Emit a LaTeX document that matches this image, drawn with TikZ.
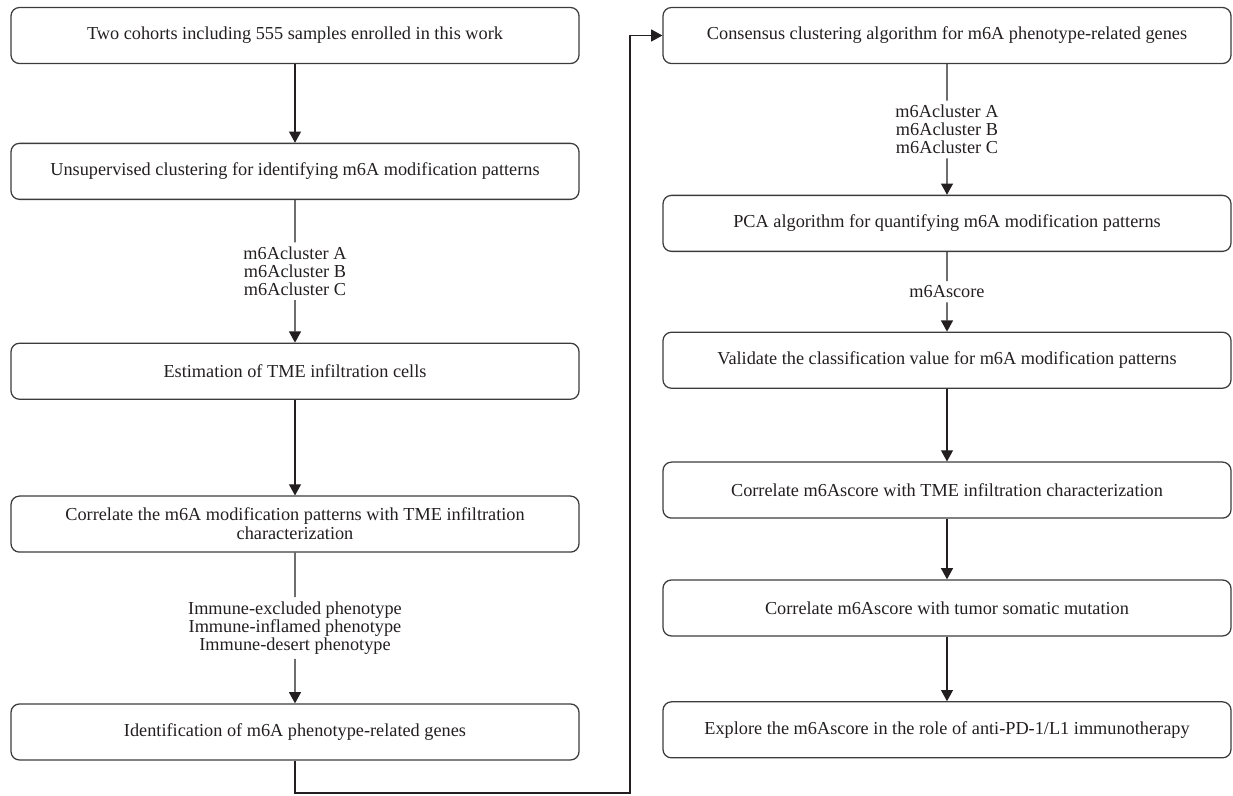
\documentclass[tikz,border=0pt]{standalone}
\usepackage{fontspec}
\setmainfont{Liberation Serif}
\usepackage{tikz}
\usetikzlibrary{arrows.meta,positioning,calc}
\usepackage{xcolor}
\definecolor{ink}{HTML}{231F20}
\definecolor{rim}{HTML}{3C3C3C}

\begin{document}
\begin{tikzpicture}[
    >={Triangle[length=0.28cm,width=0.3cm]},
    stepbox/.style={
      rectangle, rounded corners=6pt, draw=rim, line width=0.9pt,
      minimum width=14.2cm, minimum height=1.4cm, align=center,
      text=ink, font=\fontsize{13}{13.5}\selectfont, inner sep=2pt
    },
    lbl/.style={align=center, text=ink, inner sep=3pt,
      font=\fontsize{13}{12.8}\selectfont},
    link/.style={line width=0.85pt, draw=ink},
    arr/.style={link, ->}
  ]
  \useasboundingbox (0,0) rectangle (30.825,-19.875);

  % left column
  \node[stepbox] (l1) at (7.375,-0.8875)
    {Two cohorts including 555 samples enrolled in this work};
  \node[stepbox, below=1.965cm of l1] (l2)
    {Unsupervised clustering for identifying m6A modification patterns};
  \node[stepbox, below=3.565cm of l2] (l3)
    {Estimation of TME infiltration cells};
  \node[stepbox, below=2.39cm of l3] (l4)
    {Correlate the m6A modification patterns with TME infiltration\\
     characterization};
  \node[stepbox, below=3.765cm of l4] (l5)
    {Identification of m6A phenotype-related genes};

  % right column
  \node[stepbox] (r1) at (23.675,-0.8875)
    {Consensus clustering algorithm for m6A phenotype-related genes};
  \node[stepbox, below=3.265cm of r1] (r2)
    {PCA algorithm for quantifying m6A modification patterns};
  \node[stepbox, below=1.99cm of r2] (r3)
    {Validate the classification value for m6A modification patterns};
  \node[stepbox, below=1.815cm of r3] (r4)
    {Correlate m6Ascore with TME infiltration characterization};
  \node[stepbox, below=1.515cm of r4] (r5)
    {Correlate m6Ascore with tumor somatic mutation};
  \node[stepbox, below=1.615cm of r5] (r6)
    {Explore the m6Ascore in the role of anti-PD-1/L1 immunotherapy};

  \node[lbl] (lclust) at ($(l2.south)!0.5!(l3.north)$)
    {m6Acluster A\\m6Acluster B\\m6Acluster C};
  \node[lbl] (lpheno) at ($(l4.south)!0.5!(l5.north)$)
    {Immune-excluded phenotype\\Immune-inflamed phenotype\\
     Immune-desert phenotype};
  \node[lbl] (rclust) at ($(r1.south)!0.5!(r2.north)$)
    {m6Acluster A\\m6Acluster B\\m6Acluster C};
  \node[lbl] (rscore) at ($(r2.south)!0.5!(r3.north)$) {m6Ascore};

  \draw[arr] (l1) -- (l2);
  \draw[link] (l2) -- (lclust);
  \draw[arr] (lclust) -- (l3);
  \draw[arr] (l3) -- (l4);
  \draw[link] (l4) -- (lpheno);
  \draw[arr] (lpheno) -- (l5);

  \coordinate (turn) at (15.75,-19.825);
  \draw[arr] (l5.south) |- (turn) |- (r1.west);

  \draw[link] (r1) -- (rclust);
  \draw[arr] (rclust) -- (r2);
  \draw[link] (r2) -- (rscore);
  \draw[arr] (rscore) -- (r3);
  \draw[arr] (r3) -- (r4);
  \draw[arr] (r4) -- (r5);
  \draw[arr] (r5) -- (r6);
\end{tikzpicture}
\end{document}
